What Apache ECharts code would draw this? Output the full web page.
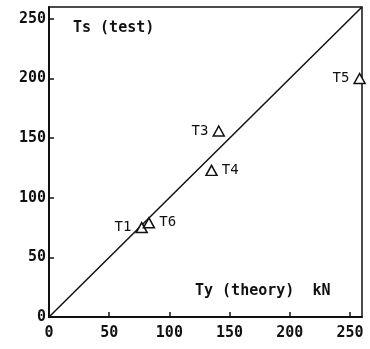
<!DOCTYPE html>
<html>
<head>
<meta charset="UTF-8">
<title>Ts vs Ty</title>
<script src="https://cdn.jsdelivr.net/npm/echarts@6/dist/echarts.min.js"></script>
<style>
	* { margin: 0; padding: 0; }
	body { background: #fff; }
</style>
</head>
<body>
<div id="main" style="width:370px;height:349px;"></div>
<script>
var names = ['T1', 'T6', 'T3', 'T4', 'T5'];
var theory = [77, 83, 141, 135, 258];
var test = [75, 79, 156, 123, 200];
var labelPos = ['left', 'right', 'left', 'right', 'left'];
var lineX = [0, 260];
var lineY = [0, 260];

var font = '"DejaVu Sans Mono", monospace';

var pts = [];
for (var i = 0; i < names.length; i++) {
	pts.push({
		value: [theory[i], test[i]],
		name: names[i],
		label: { position: labelPos[i] }
	});
}
var diag = [];
for (var j = 0; j < lineX.length; j++) diag.push([lineX[j], lineY[j]]);

var chart = echarts.init(document.getElementById('main'));
chart.setOption({
	backgroundColor: '#fff',
	animation: false,
	grid: {
		left: 49, right: 8, top: 7, bottom: 32,
		show: true, borderColor: '#111', borderWidth: 1.5
	},
	xAxis: {
		type: 'value', min: 0, max: 260, interval: 50,
		axisLine: { show: true, lineStyle: { color: '#111', width: 2 } },
		axisTick: { show: true, inside: true, length: 5, lineStyle: { color: '#111', width: 1.5 } },
		axisLabel: {
			color: '#111', fontFamily: font, fontWeight: 'bold', fontSize: 15, margin: 9,
			showMaxLabel: false
		},
		splitLine: { show: false }
	},
	yAxis: {
		type: 'value', min: 0, max: 260, interval: 50,
		axisLine: { show: true, lineStyle: { color: '#111', width: 2 } },
		axisTick: { show: true, inside: true, length: 5, lineStyle: { color: '#111', width: 1.5 } },
		axisLabel: {
			color: '#111', fontFamily: font, fontWeight: 'bold', fontSize: 15, margin: 3,
			showMaxLabel: false
		},
		splitLine: { show: false }
	},
	graphic: [{
		type: 'text', left: 73, top: 21,
		style: { text: 'Ts (test)', fill: '#111', font: 'bold 15px ' + font }
	}, {
		type: 'text', left: 195, top: 284,
		style: { text: 'Ty (theory)  kN', fill: '#111', font: 'bold 15px ' + font }
	}],
	series: [{
		type: 'line',
		data: diag,
		symbol: 'none',
		lineStyle: { color: '#111', width: 1.5 },
		silent: true
	}, {
		type: 'scatter',
		data: pts,
		symbol: 'triangle',
		symbolSize: [11, 10],
		itemStyle: { color: '#fff', borderColor: '#111', borderWidth: 1.5, opacity: 1 },
		label: {
			show: true, formatter: '{b}', color: '#111',
			fontFamily: font, fontSize: 14, distance: 4
		},
		z: 5
	}]
});
</script>
</body>
</html>
